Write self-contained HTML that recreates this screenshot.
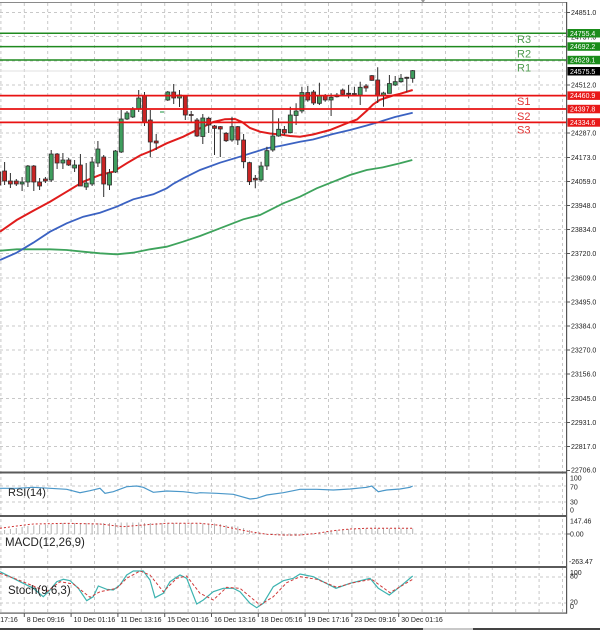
<!DOCTYPE html>
<html><head><meta charset="utf-8"><style>html,body{margin:0;padding:0;background:#fff}svg{display:block}</style></head>
<body>
<svg width="600" height="630" viewBox="0 0 600 630" xmlns="http://www.w3.org/2000/svg" font-family="Liberation Sans, Arial, sans-serif">
<rect width="600" height="630" fill="#fff"/>
<!-- vertical grid -->
<path d="M0.9 3V612M24.3 3V612M47.7 3V612M71.1 3V612M94.5 3V612M117.9 3V612M141.3 3V612M164.7 3V612M188.1 3V612M211.5 3V612M234.9 3V612M258.3 3V612M281.7 3V612M305.1 3V612M328.5 3V612M351.9 3V612M375.3 3V612M398.7 3V612M422.1 3V612M445.5 3V612M468.9 3V612M492.3 3V612M515.7 3V612M539.1 3V612M562.5 3V612" stroke="#c8c8c8" stroke-width="1" stroke-dasharray="3,3" fill="none"/>
<!-- horizontal grid main -->
<path d="M0 12.5H566M0 36.5H566M0 61H566M0 85H566M0 109H566M0 133H566M0 157.5H566M0 181.5H566M0 205.5H566M0 229.5H566M0 253.5H566M0 278H566M0 302H566M0 326H566M0 350H566M0 374H566M0 398.5H566M0 422.5H566M0 446.5H566M0 486H566M0 502H566M0 534H566M0 577H566M0 603H566" stroke="#c8c8c8" stroke-width="1" stroke-dasharray="3,3" fill="none"/>
<line x1="0" y1="71" x2="566" y2="71" stroke="#e2e2e2" stroke-width="1"/>

<!-- moving averages -->
<polyline fill="none" stroke="#3ea35c" stroke-width="1.8" points="0,250.7 16.7,249.3 50,249.3 66.7,250 83,251.7 100,253.3 116.7,254.3 133,252.7 150,249.3 166.7,246.7 183,241.7 200,236 220,228.3 243.3,219.3 260,215 283.3,203.3 300,196.7 316.7,188.3 333.3,181.7 350,175 366.7,170 383.3,167.3 400,163.3 412.3,160"/>
<polyline fill="none" stroke="#3b62c2" stroke-width="1.8" points="0,260 16.7,252.7 33.3,242.7 50,231.7 66.7,223.3 83.3,216.7 100,212.7 116.7,206.7 133.3,199.3 153.3,194.3 166.7,188.3 173,184 183.3,178.3 200,170 220,162.7 240,156.7 266.7,148.3 280,146 300,141.7 313,139.5 333,134 350,130 366.7,125.5 378,122.3 395,117 412.7,112.7"/>
<polyline fill="none" stroke="#e01c1c" stroke-width="2" points="0,231.7 16.7,220 33.3,210.7 50,201.7 66.7,191.7 83.3,181.7 100,175 113.3,171.7 126.7,163.3 140,155.5 153.3,150 166.7,143.3 183.3,136.7 200,128.3 213.3,122 225,119.2 235,119 242,122 250,128 260,131.7 270,133.5 280,134.5 290,136 300,136.7 313,134.5 330,130 350,122 357,119.5 362,115 367,110.5 373,104.5 380,99.8 387,97.5 393,95.5 400,93.8 412.7,90"/>

<!-- candle wicks -->
<path fill="none" stroke="#2e2e2e" stroke-width="1" d="M-1.2 170V191.7M4.6 162V185M10.4 173V188M16.3 179V186M22.1 177V191M27.9 165V187M33.8 165V191M39.6 178V190M45.4 177V183M51.2 150V182M57.1 153V169M62.9 153V169M68.7 158V166M74.6 160V172M80.4 154V186M86.2 163V190M92.1 157V186M97.9 141V167M103.7 155V197M109.5 169V190M115.4 150V173M121.2 110V153M127 111V120M132.8 107V118M138.7 90V112M144.5 92V126M150.3 110V157M156.2 134V150M167.8 91V101M173.7 84V104M179.5 90V107M185.3 95V120M191.2 111V123M197 118V137M202.8 114V144M208.7 116.7V133M214.5 125V155M220.3 126V157M226.1 132V142M232 116.7V141.7M237.8 126V145M243.6 134V168.3M249.5 161.7V185M255.3 175V188.3M261.1 161.7V181.7M266.9 146.7V170M272.8 110V151.7M278.6 118.3V136.7M284.4 126V135M290.3 106.7V133.3M296.1 103.3V125M301.9 86.7V113.3M307.8 86V101.7M313.6 90V105M319.4 82.7V105M325.2 94V101.7M331.1 93.3V116M336.9 93V97.5M342.7 88.5V95M348.6 85V98.3M354.4 86.7V96M360.2 81.7V105M366 84V91.7M371.9 75V80.7M377.7 67.3V103M383.5 91.7V106.7M389.4 75V93.3M395.2 76V86M401 74V82.7M406.8 76.7V91.7M412.7 70V82.7"/>
<!-- green bodies -->
<path fill="#3f9e5e" stroke="#2e2e2e" stroke-width="0.8" d="M20.1 182h4v2h-4zM25.9 166h4v16h-4zM49.2 154h4v26h-4zM60.9 160h4v3h-4zM72.6 165h4v3h-4zM84.2 183h4v4h-4zM90.1 162h4v22h-4zM95.9 149h4v14h-4zM107.5 173h4v12h-4zM113.4 151h4v21h-4zM119.2 119h4v33h-4zM125 113h4v6h-4zM130.8 109h4v8h-4zM136.7 98h4v11h-4zM165.8 92h4v8h-4zM177.5 95h4v3h-4zM200.8 118h4v18.5h-4zM230 126.7h4v13.3h-4zM259.1 166h4v14h-4zM264.9 150.7h4v15.3h-4zM270.8 136h4v14h-4zM276.6 129.3h4v6.7h-4zM288.3 115h4v17.7h-4zM294.1 111h4v4.5h-4zM299.9 92.5h4v18.5h-4zM317.4 96h4v7.3h-4zM329.1 97.3h4v2.7h-4zM334.9 95h4v1.7h-4zM358.2 87.3h4v7.7h-4zM381.5 93h4v3h-4zM387.4 83.5h4v9.8h-4zM393.2 81.7h4v3.3h-4zM399 78.3h4v3.4h-4zM410.7 70.7h4v7.6h-4z"/>
<line x1="160" y1="112" x2="164" y2="112" stroke="#3fa35e" stroke-width="1.2"/>
<!-- red bodies -->
<path fill="#c92424" stroke="#2e2e2e" stroke-width="0.8" d="M-3.2 172h4v13h-4zM2.6 171h4v10h-4zM8.4 181h4v3h-4zM14.3 181h4v3h-4zM31.8 166h4v16h-4zM37.6 182h4v4h-4zM43.4 179h4v2h-4zM55.1 154h4v9h-4zM66.7 160h4v5h-4zM78.4 165h4v21h-4zM101.7 157h4v27h-4zM142.5 96h4v26h-4zM148.3 120h4v22h-4zM154.2 141h4v2h-4zM171.7 92h4v6h-4zM183.3 96h4v19h-4zM189.2 114.5h4v1h-4zM195 120h4v16h-4zM206.7 118.3h4v6.7h-4zM212.5 126h4v2.3h-4zM218.3 126.7h4v2.3h-4zM224.1 133.3h4v7.4h-4zM235.8 126.7h4v13.3h-4zM241.6 140h4v21.7h-4zM247.5 162.7h4v19h-4zM253.3 178.3h4v1.7h-4zM282.4 129.5h4v3.5h-4zM305.8 92.5h4v7.5h-4zM311.6 92h4v11h-4zM323.2 96h4v4h-4zM340.7 90h4v4.3h-4zM346.6 93.3h4v1h-4zM352.4 93.5h4v1h-4zM364 86h4v2h-4zM369.9 75.7h4v4.6h-4zM375.7 80h4v16h-4zM404.8 77.3h4v1h-4z"/>

<!-- level lines -->
<path fill="none" stroke="#1f8a1f" stroke-width="1.5" d="M0 33.2H567M0 46.6H567M0 60H567"/>
<path fill="none" stroke="#e81212" stroke-width="1.7" d="M0 95.6H567M0 109H567M0 122.4H567"/>
<g font-size="11" fill="#4f9a4f">
<text x="517" y="43">R3</text><text x="517" y="57.5">R2</text><text x="517" y="71.5">R1</text>
</g>
<g font-size="11" fill="#e03232">
<text x="517" y="105">S1</text><text x="517" y="120">S2</text><text x="517" y="133.5">S3</text>
</g>

<!-- RSI -->
<polyline fill="none" stroke="#4a97c9" stroke-width="1.2" points="0,488.3 16.7,488.3 33.3,487.3 50,488.3 66.7,489.3 80,492.7 90,490.7 100,488.3 105,493.3 113.3,491.7 126.7,486.7 136.7,486 143.3,487.3 153.3,492.3 166.7,491 183.3,491.7 196.7,493.3 200,492.7 216.7,493.3 233.3,494.3 250,499 256.7,498.3 266.7,495 283.3,492.7 293.3,490.7 300,489.3 316.7,489.3 333.3,490 350,489 366.7,487.3 371.7,486 378.3,491.7 386.7,490 400,489 410,487.3 412.7,486"/>
<text x="8" y="496" font-size="11" fill="#222">RSI(14)</text>

<!-- MACD histogram -->
<path fill="none" stroke="#b4b4b4" stroke-width="1" d="M4.6 534V530M10.4 534V529M16.3 534V528M22.1 534V527M27.9 534V526M33.8 534V525.5M39.6 534V525M45.4 534V524.5M51.2 534V524M57.1 534V523.5M62.9 534V523M68.7 534V523M74.6 534V523M80.4 534V523M86.2 534V523M92.1 534V523M97.9 534V523M103.7 534V523M109.5 534V523M115.4 534V523M121.2 534V522.5M127 534V522.5M132.8 534V522.5M138.7 534V522.5M144.5 534V523M150.3 534V523M156.2 534V523M162 534V523M167.8 534V523M173.7 534V523M179.5 534V523M185.3 534V523M191.2 534V523M197 534V523M202.8 534V523.5M208.7 534V523.5M214.5 534V523.5M220.3 534V524M226.1 534V525M232 534V526M237.8 534V526.5M243.6 534V528M249.5 534V530M255.3 534V532M261.1 534V533.5M266.9 534V534.5M272.8 534V535M278.6 534V535.5M284.4 534V536M290.3 534V536M296.1 534V536M301.9 534V535.5M307.8 534V535M313.6 534V534M319.4 534V533M325.2 534V532M331.1 534V531M336.9 534V530M342.7 534V529.5M348.6 534V529M354.4 534V528.5M360.2 534V528.5M366 534V528.5M371.9 534V528.5M377.7 534V528.5M383.5 534V528.5M389.4 534V528.5M395.2 534V528.5M401 534V528.5M406.8 534V528.5M412.7 534V528.5"/>
<polyline fill="none" stroke="#d03030" stroke-width="1" stroke-dasharray="2,2" points="0,528.3 16.7,526 33.3,524 66.7,523.3 100,524 123,526.7 143,525 167,523.3 200,523.3 217,525 233,528.3 250,531.7 267,534.3 283,535 300,535 317,533.3 333,530.7 350,529 367,528.3 412.7,528.3"/>
<text x="5" y="546" font-size="11.5" fill="#222">MACD(12,26,9)</text>

<!-- Stochastic -->
<polyline fill="none" stroke="#3db3b0" stroke-width="1.2" points="0,571.7 10,576.7 20,581.7 33.3,588.3 43.3,596.7 50,590 56.7,581.7 63.3,579.3 70,580.7 78.3,588.3 86.7,600.7 93.3,596.7 98.3,586 106.7,589.3 113.3,590 120,585 126.7,575 133.3,571 143.3,571 150,580 155,597.7 163.3,593.3 170,581.7 180,575 186.7,578.3 196.7,604 203.3,600 213.3,591.7 223.3,588.3 233.3,588.3 240,591.7 250,603.3 256.7,607.7 263.3,603.3 273.3,586.7 283.3,580.7 293.3,578.3 300,574 313.3,576.7 336,588.3 350,583.3 370,578.3 378.3,588.3 389.3,595 400,586.7 412.7,576"/>
<polyline fill="none" stroke="#d03a3a" stroke-width="1" stroke-dasharray="3,2" points="0,573.3 16.7,579.3 33.3,586 46.7,591.7 60,581.7 73.3,584 90,597.3 100,591.7 116.7,588.3 126.7,578.3 140,571 150,575 163.3,591.7 176.7,578.3 186.7,576 200,593.3 213.3,600 226.7,587.3 240,588.3 260,605 273.3,596.7 286.7,582.7 300,576.7 316.7,579.3 336.7,587.3 353.3,582.7 371.7,579.3 390,592.7 412.7,579.3"/>
<text x="8" y="594" font-size="11.5" fill="#222">Stoch(9,6,3)</text>

<!-- borders / separators -->
<rect x="0" y="2" width="567" height="1" fill="#8a8a8a"/>
<rect x="0" y="471.5" width="567" height="2" fill="#5a5a5a"/>
<rect x="0" y="515" width="567" height="2" fill="#5a5a5a"/>
<rect x="0" y="566" width="567" height="2" fill="#5a5a5a"/>
<rect x="0" y="612.5" width="567" height="1.2" fill="#5a5a5a"/>
<rect x="566" y="2" width="1.2" height="611.7" fill="#555"/>
<rect x="0" y="628" width="600" height="2" fill="#444"/>
<rect x="423" y="628" width="50" height="2" fill="#c8c8c8"/>

<!-- right axis ticks -->
<path fill="none" stroke="#555" stroke-width="1" d="M567 12.5h3M567 36.5h3M567 85h3M567 133h3M567 157.5h3M567 181.5h3M567 205.5h3M567 229.5h3M567 253.5h3M567 278h3M567 302h3M567 326h3M567 350h3M567 374h3M567 398.5h3M567 422.5h3M567 446.5h3M567 470.5h3M567 534h3"/>
<g font-size="7" fill="#222">
<text x="571" y="15">24851.0</text>
<text x="571" y="39.5">24737.0</text>
<text x="571" y="63.5">24624.0</text>
<text x="571" y="87.5">24512.0</text>
<text x="571" y="111.5">24398.0</text>
<text x="571" y="135.5">24287.0</text>
<text x="571" y="160">24173.0</text>
<text x="571" y="184">24059.0</text>
<text x="571" y="208">23948.0</text>
<text x="571" y="232">23834.0</text>
<text x="571" y="256">23720.0</text>
<text x="571" y="280.5">23609.0</text>
<text x="571" y="304.5">23495.0</text>
<text x="571" y="328.5">23384.0</text>
<text x="571" y="352.5">23270.0</text>
<text x="571" y="376.5">23156.0</text>
<text x="571" y="401">23045.0</text>
<text x="571" y="425">22931.0</text>
<text x="571" y="449">22817.0</text>
<text x="571" y="472.5">22706.0</text>
<text x="570" y="480.5">100</text>
<text x="570" y="489.5">70</text>
<text x="570" y="504.5">30</text>
<text x="570" y="512.5">0</text>
<text x="570" y="523.5">147.46</text>
<text x="570" y="536.5">0.00</text>
<text x="569" y="564">-263.47</text>
<text x="570" y="575">100</text>
<text x="570" y="578.5">80</text>
<text x="570" y="604.5">20</text>
<text x="570" y="609">0</text>
</g>
<!-- price boxes -->
<rect x="567.5" y="29" width="33" height="8.5" fill="#1a8c1a"/>
<rect x="567.5" y="42.3" width="33" height="8.5" fill="#1a8c1a"/>
<rect x="567.5" y="55.8" width="33" height="8.5" fill="#1a8c1a"/>
<rect x="567.5" y="67" width="33" height="8.5" fill="#000"/>
<rect x="567.5" y="91.4" width="33" height="8.5" fill="#e81818"/>
<rect x="567.5" y="104.8" width="33" height="8.5" fill="#e81818"/>
<rect x="567.5" y="118.2" width="33" height="8.5" fill="#e81818"/>
<g font-size="7" fill="#fff">
<text x="570" y="35.8">24755.4</text>
<text x="570" y="49.1">24692.2</text>
<text x="570" y="62.6">24629.1</text>
<text x="570" y="73.8">24575.5</text>
<text x="570" y="98.2">24460.9</text>
<text x="570" y="111.6">24397.8</text>
<text x="570" y="125">24334.6</text>
</g>

<!-- time axis -->
<path fill="none" stroke="#555" stroke-width="1" d="M24.3 613v4M71.1 613v4M117.9 613v4M164.7 613v4M211.5 613v4M258.3 613v4M305.1 613v4M351.9 613v4M398.7 613v4"/>
<g font-size="7" fill="#222">
<text x="-20" y="622">5 Dec 17:16</text>
<text x="26.8" y="622">8 Dec 09:16</text>
<text x="73.6" y="622">10 Dec 01:16</text>
<text x="120.4" y="622">11 Dec 13:16</text>
<text x="167.2" y="622">15 Dec 01:16</text>
<text x="214" y="622">16 Dec 13:16</text>
<text x="260.8" y="622">18 Dec 05:16</text>
<text x="307.6" y="622">19 Dec 17:16</text>
<text x="354.4" y="622">23 Dec 09:16</text>
<text x="401.2" y="622">30 Dec 01:16</text>
</g>
<path d="M421 0l4 0l-2 3z" fill="#999"/>
</svg>
</body></html>
